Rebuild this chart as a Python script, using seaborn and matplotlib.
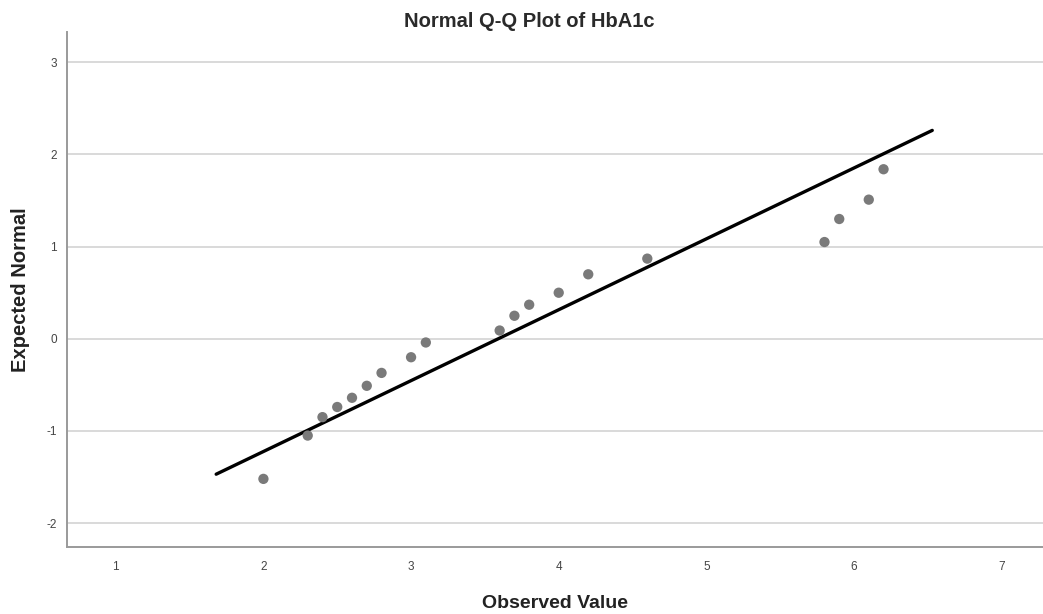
import matplotlib
matplotlib.use("Agg")
import matplotlib.pyplot as plt
import numpy as np
import pandas as pd
import seaborn as sns

# Observed HbA1c values and their expected normal scores
observed = [2.0, 2.3, 2.4, 2.5, 2.6, 2.7, 2.8, 3.0, 3.1, 3.6,
            3.7, 3.8, 4.0, 4.2, 4.6, 5.8, 5.9, 6.1, 6.2]
expected = [-1.52, -1.05, -0.85, -0.74, -0.64, -0.51, -0.37, -0.20, -0.04, 0.09,
            0.25, 0.37, 0.50, 0.70, 0.87, 1.05, 1.30, 1.51, 1.84]

# Reference line: z = (x - mean) / sd, drawn over this x span
line_x = [1.68, 6.53]
line_mean = 3.59
line_sd = 1.30

x_ticks = [1, 2, 3, 4, 5, 6, 7]
y_ticks = [-2, -1, 0, 1, 2, 3]

sns.set_style("white")
plt.rcParams["font.family"] = ["Liberation Sans", "DejaVu Sans"]
plt.rcParams["axes.unicode_minus"] = False

points = pd.DataFrame({"observed": observed, "expected": expected})
line_df = pd.DataFrame({"x": line_x})
line_df["z"] = (line_df["x"] - line_mean) / line_sd

fig = plt.figure(figsize=(10.43, 6.14), dpi=100)
ax = fig.add_axes([0.064, 0.109, 0.936, 0.839])

for yv in y_ticks:
    ax.axhline(yv, color="#d9d9d9", lw=1.4, zorder=0)

sns.lineplot(data=line_df, x="x", y="z", ax=ax, color="black", lw=2.4, zorder=2)
sns.scatterplot(data=points, x="observed", y="expected", ax=ax,
                color="#7a7a7a", s=55, edgecolor="none", zorder=3)

ax.set_xlim(0.668, 7.28)
ax.set_ylim(-2.26, 3.33)
ax.set_xticks(x_ticks)
ax.set_yticks(y_ticks)
ax.tick_params(axis="both", length=0, labelsize=8.5, colors="#444444")
ax.tick_params(axis="x", pad=10)
ax.tick_params(axis="y", pad=7)

for side in ["top", "right"]:
    ax.spines[side].set_visible(False)
for side in ["left", "bottom"]:
    ax.spines[side].set_color("#9a9a9a")
    ax.spines[side].set_linewidth(1.4)

ax.set_xlabel("Observed Value", fontsize=14, fontweight="bold", color="#222222", labelpad=16)
ax.set_ylabel("Expected Normal", fontsize=14.5, fontweight="bold", color="#222222", labelpad=12)
fig.suptitle("Normal Q-Q Plot of HbA1c", fontsize=14.5, fontweight="bold",
             color="#2a2a2a", x=0.507, y=0.98)

fig.savefig("out.png", dpi=100)
